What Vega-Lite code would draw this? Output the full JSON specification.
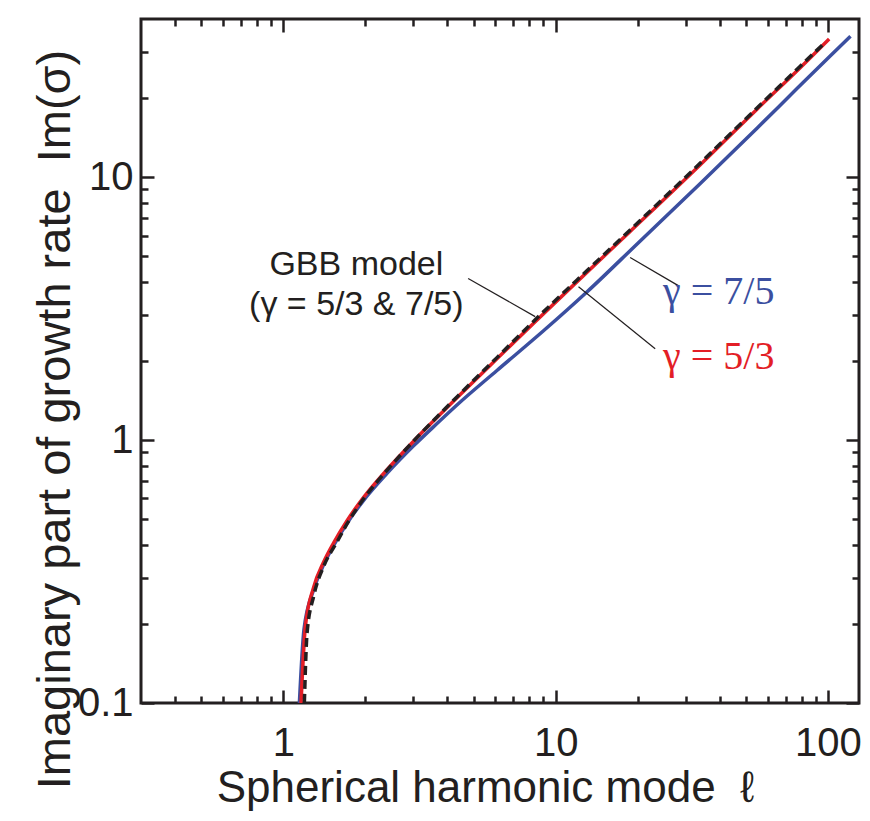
{
  "$schema": "https://vega.github.io/schema/vega-lite/v6.json",
  "width": 718,
  "height": 684,
  "autosize": "none",
  "padding": {"left": 141, "top": 19, "right": 11, "bottom": 118},
  "background": "white",
  "config": {
    "view": {"stroke": "#231f20", "strokeWidth": 3},
    "axis": {
      "grid": false, "domain": false, "tickColor": "#231f20", "tickWidth": 2.5,
      "labelFont": "Liberation Sans", "titleFont": "Liberation Sans",
      "labelColor": "#231f20", "titleColor": "#231f20", "titleFontWeight": "normal",
      "labelFlush": false, "labelOverlap": false
    }
  },
  "datasets": {
    "red": [
      {"l": 1.161, "v": 0.1}, {"l": 1.204, "v": 0.195}, {"l": 1.292, "v": 0.276}, {"l": 1.406, "v": 0.344},
      {"l": 1.53, "v": 0.407}, {"l": 1.713, "v": 0.494}, {"l": 1.971, "v": 0.606}, {"l": 2.402, "v": 0.772},
      {"l": 3.007, "v": 0.991}, {"l": 3.665, "v": 1.219}, {"l": 4.339, "v": 1.45}, {"l": 6.085, "v": 2.04},
      {"l": 8.41, "v": 2.82}, {"l": 11.96, "v": 4.0}, {"l": 18.77, "v": 6.22}, {"l": 33.9, "v": 11.14},
      {"l": 55, "v": 18.2}, {"l": 78.9, "v": 26.06}, {"l": 101, "v": 33.6}
    ],
    "blue": [
      {"l": 1.145, "v": 0.1}, {"l": 1.19, "v": 0.19}, {"l": 1.292, "v": 0.27}, {"l": 1.406, "v": 0.336},
      {"l": 1.53, "v": 0.398}, {"l": 1.713, "v": 0.483}, {"l": 1.971, "v": 0.59}, {"l": 2.402, "v": 0.747},
      {"l": 3.007, "v": 0.951}, {"l": 3.665, "v": 1.156}, {"l": 4.339, "v": 1.36}, {"l": 6.085, "v": 1.84},
      {"l": 9.0, "v": 2.6}, {"l": 13.02, "v": 3.66}, {"l": 20, "v": 5.6}, {"l": 33.9, "v": 9.45},
      {"l": 55, "v": 15.4}, {"l": 76.8, "v": 21.7}, {"l": 101, "v": 28.7}, {"l": 121, "v": 34.4}
    ],
    "gbb": [
      {"l": 1.194, "v": 0.1}, {"l": 1.222, "v": 0.185}, {"l": 1.292, "v": 0.255}, {"l": 1.406, "v": 0.331},
      {"l": 1.574, "v": 0.41}, {"l": 1.713, "v": 0.48}, {"l": 1.971, "v": 0.598}, {"l": 2.402, "v": 0.768},
      {"l": 3.007, "v": 0.992}, {"l": 3.665, "v": 1.225}, {"l": 4.339, "v": 1.46}, {"l": 6.085, "v": 2.06},
      {"l": 8.41, "v": 2.87}, {"l": 11.96, "v": 4.06}, {"l": 18.77, "v": 6.3}, {"l": 33.9, "v": 11.3},
      {"l": 55, "v": 18.4}, {"l": 78.9, "v": 26.4}, {"l": 97, "v": 32.4}
    ],
    "leaders": [
      {"x1": 4.77, "y1": 4.12, "x2": 8.41, "y2": 2.95},
      {"x1": 12.13, "y1": 3.83, "x2": 23.2, "y2": 2.225},
      {"x1": 18.77, "y1": 4.95, "x2": 28.2, "y2": 3.87}
    ],
    "labels": [
      {"l": 1.853, "v": 4.23, "t": "GBB model", "g": "gbb"},
      {"l": 1.853, "v": 3.0, "t": "(γ = 5/3 & 7/5)", "g": "gbb"},
      {"l": 24.8, "v": 3.3, "t": "γ = 7/5", "g": "b"},
      {"l": 24.8, "v": 1.87, "t": "γ = 5/3", "g": "r"}
    ]
  },
  "resolve": {"axis": {"x": "independent", "y": "independent"}},
  "layer": [
    {
      "data": {"name": "blue"},
      "mark": {"type": "line", "color": "#3b4fa0", "strokeWidth": 3.5, "interpolate": "monotone"},
      "encoding": {
        "x": {"field": "l", "type": "quantitative", "scale": {"type": "log", "domain": [0.3, 130], "nice": false},
          "axis": {"orient": "bottom", "values": [1, 10, 100], "format": "~g", "tickSize": -13, "labelPadding": 65,
            "labelBaseline": "alphabetic", "labelFontSize": 40,
            "title": "Spherical harmonic mode\u00a0\u00a0ℓ", "titleFontSize": 44, "titleX": 344, "titleY": 98,
            "titleAlign": "center", "titleBaseline": "alphabetic"}},
        "y": {"field": "v", "type": "quantitative", "scale": {"type": "log", "domain": [0.1, 40], "nice": false},
          "axis": {"orient": "left", "values": [0.1, 1, 10], "format": "~g", "tickSize": -13, "labelPadding": 21,
            "labelFontSize": 40,
            "title": "Imaginary part of growth rate\u00a0\u00a0Im(σ)", "titleFontSize": 47, "titleX": -72, "titleY": 400,
            "titleAngle": -90, "titleAlign": "center", "titleBaseline": "alphabetic"}}
      }
    },
    {
      "data": {"name": "red"},
      "mark": {"type": "line", "color": "#e31e26", "strokeWidth": 3.5, "interpolate": "monotone"},
      "encoding": {
        "x": {"field": "l", "type": "quantitative", "scale": {"type": "log", "domain": [0.3, 130], "nice": false},
          "axis": {"orient": "bottom", "values": [0.4, 0.5, 0.6, 0.7, 0.8, 0.9, 2, 3, 4, 5, 6, 7, 8, 9, 20, 30, 40, 50, 60, 70, 80, 90],
            "tickSize": -7, "labels": false, "title": null}},
        "y": {"field": "v", "type": "quantitative", "scale": {"type": "log", "domain": [0.1, 40], "nice": false},
          "axis": {"orient": "left", "values": [0.2, 0.3, 0.4, 0.5, 0.6, 0.7, 0.8, 0.9, 2, 3, 4, 5, 6, 7, 8, 9, 20, 30],
            "tickSize": -7, "labels": false, "title": null}}
      }
    },
    {
      "data": {"name": "gbb"},
      "mark": {"type": "line", "color": "#231f20", "strokeWidth": 3.5, "strokeDash": [9, 5], "interpolate": "monotone"},
      "encoding": {
        "x": {"field": "l", "type": "quantitative", "scale": {"type": "log", "domain": [0.3, 130], "nice": false},
          "axis": {"orient": "top", "values": [1, 10, 100], "tickSize": -13, "labels": false, "title": null}},
        "y": {"field": "v", "type": "quantitative", "scale": {"type": "log", "domain": [0.1, 40], "nice": false},
          "axis": {"orient": "right", "values": [0.1, 1, 10], "tickSize": -13, "labels": false, "title": null}}
      }
    },
    {
      "data": {"name": "leaders"},
      "mark": {"type": "rule", "color": "#231f20", "strokeWidth": 1.2},
      "encoding": {
        "x": {"field": "x1", "type": "quantitative", "scale": {"type": "log", "domain": [0.3, 130], "nice": false},
          "axis": {"orient": "top", "values": [0.4, 0.5, 0.6, 0.7, 0.8, 0.9, 2, 3, 4, 5, 6, 7, 8, 9, 20, 30, 40, 50, 60, 70, 80, 90],
            "tickSize": -7, "labels": false, "title": null}},
        "x2": {"field": "x2"},
        "y": {"field": "y1", "type": "quantitative", "scale": {"type": "log", "domain": [0.1, 40], "nice": false},
          "axis": {"orient": "right", "values": [0.2, 0.3, 0.4, 0.5, 0.6, 0.7, 0.8, 0.9, 2, 3, 4, 5, 6, 7, 8, 9, 20, 30],
            "tickSize": -7, "labels": false, "title": null}},
        "y2": {"field": "y2"}
      }
    },
    {
      "data": {"name": "labels"},
      "transform": [{"filter": "datum.g === 'gbb'"}],
      "mark": {"type": "text", "font": "Liberation Sans", "fontSize": 34, "color": "#231f20", "align": "center", "baseline": "alphabetic"},
      "encoding": {
        "x": {"field": "l", "type": "quantitative", "scale": {"type": "log", "domain": [0.3, 130], "nice": false}, "axis": null},
        "y": {"field": "v", "type": "quantitative", "scale": {"type": "log", "domain": [0.1, 40], "nice": false}, "axis": null},
        "text": {"field": "t"}
      }
    },
    {
      "data": {"name": "labels"},
      "transform": [{"filter": "datum.g === 'b'"}],
      "mark": {"type": "text", "font": "Liberation Serif", "fontSize": 40, "color": "#3b4fa0", "align": "left", "baseline": "alphabetic"},
      "encoding": {
        "x": {"field": "l", "type": "quantitative", "scale": {"type": "log", "domain": [0.3, 130], "nice": false}, "axis": null},
        "y": {"field": "v", "type": "quantitative", "scale": {"type": "log", "domain": [0.1, 40], "nice": false}, "axis": null},
        "text": {"field": "t"}
      }
    },
    {
      "data": {"name": "labels"},
      "transform": [{"filter": "datum.g === 'r'"}],
      "mark": {"type": "text", "font": "Liberation Serif", "fontSize": 40, "color": "#e31e26", "align": "left", "baseline": "alphabetic"},
      "encoding": {
        "x": {"field": "l", "type": "quantitative", "scale": {"type": "log", "domain": [0.3, 130], "nice": false}, "axis": null},
        "y": {"field": "v", "type": "quantitative", "scale": {"type": "log", "domain": [0.1, 40], "nice": false}, "axis": null},
        "text": {"field": "t"}
      }
    }
  ]
}
